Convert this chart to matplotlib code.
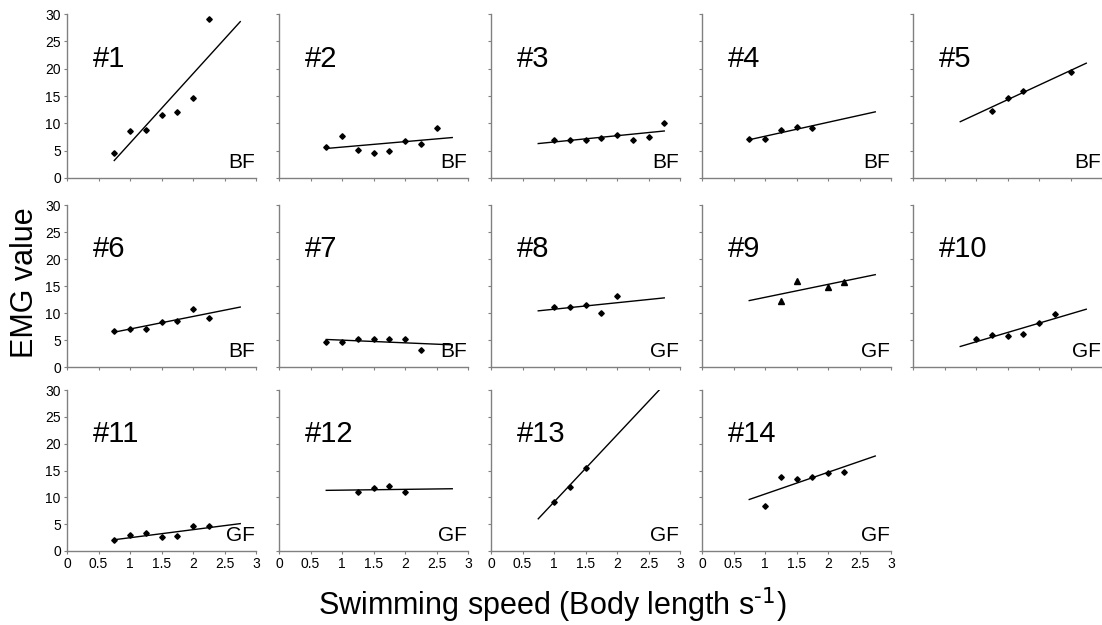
import matplotlib
matplotlib.use("Agg")
import matplotlib.pyplot as plt
from matplotlib.ticker import FuncFormatter

plt.rcParams['font.family'] = ['Liberation Sans', 'DejaVu Sans']
plt.rcParams['mathtext.default'] = 'regular'

# fish number, muscle and measured points (speed in body lengths / s, EMG value)
fish = ['#1', '#2', '#3', '#4', '#5', '#6', '#7',
        '#8', '#9', '#10', '#11', '#12', '#13', '#14']
muscle = ['BF', 'BF', 'BF', 'BF', 'BF', 'BF', 'BF',
          'GF', 'GF', 'GF', 'GF', 'GF', 'GF', 'GF']

speed_1 = [0.75, 1.0, 1.25, 1.5, 1.75, 2.0, 2.25]
emg_1 = [4.5, 8.6, 8.8, 11.5, 12.1, 14.7, 29.0]
speed_2 = [0.75, 1.0, 1.25, 1.5, 1.75, 2.0, 2.25, 2.5]
emg_2 = [5.7, 7.6, 5.1, 4.6, 5.0, 6.7, 6.3, 9.2]
speed_3 = [1.0, 1.25, 1.5, 1.75, 2.0, 2.25, 2.5, 2.75]
emg_3 = [7.0, 6.9, 7.0, 7.4, 7.8, 7.0, 7.5, 10.0]
speed_4 = [0.75, 1.0, 1.25, 1.5, 1.75]
emg_4 = [7.1, 7.1, 8.8, 9.3, 9.1]
speed_5 = [1.25, 1.5, 1.75, 2.5]
emg_5 = [12.3, 14.7, 15.9, 19.4]
speed_6 = [0.75, 1.0, 1.25, 1.5, 1.75, 2.0, 2.25]
emg_6 = [6.6, 7.0, 7.0, 8.3, 8.5, 10.7, 9.1]
speed_7 = [0.75, 1.0, 1.25, 1.5, 1.75, 2.0, 2.25]
emg_7 = [4.7, 4.6, 5.1, 5.1, 5.1, 5.1, 3.1]
speed_8 = [1.0, 1.25, 1.5, 1.75, 2.0]
emg_8 = [11.1, 11.1, 11.4, 10.0, 13.1]
speed_9 = [1.25, 1.5, 2.0, 2.25]
emg_9 = [12.2, 15.9, 14.8, 15.8]
speed_10 = [1.0, 1.25, 1.5, 1.75, 2.0, 2.25]
emg_10 = [5.1, 6.0, 5.8, 6.1, 8.1, 9.8]
speed_11 = [0.75, 1.0, 1.25, 1.5, 1.75, 2.0, 2.25]
emg_11 = [2.0, 2.95, 3.3, 2.7, 2.8, 4.6, 4.6]
speed_12 = [1.25, 1.5, 1.75, 2.0]
emg_12 = [11.0, 11.7, 12.1, 11.0]
speed_13 = [1.0, 1.25, 1.5]
emg_13 = [9.2, 11.9, 15.4]
speed_14 = [1.0, 1.25, 1.5, 1.75, 2.0, 2.25]
emg_14 = [8.3, 13.8, 13.5, 13.8, 14.6, 14.8]

speeds = [speed_1, speed_2, speed_3, speed_4, speed_5, speed_6, speed_7,
          speed_8, speed_9, speed_10, speed_11, speed_12, speed_13, speed_14]
emgs = [emg_1, emg_2, emg_3, emg_4, emg_5, emg_6, emg_7,
        emg_8, emg_9, emg_10, emg_11, emg_12, emg_13, emg_14]

# regression lines: value at start and end of fit range
fit_x = [0.75, 2.75]
fit_start = [3.2, 5.4, 6.3, 7.0, 10.3, 6.45, 5.1, 10.4, 12.3, 3.8, 2.1, 11.3, 6.0, 9.6]
fit_end = [28.6, 7.4, 8.6, 12.1, 21.0, 11.1, 4.1, 12.8, 17.1, 10.7, 5.1, 11.6, 31.0, 17.7]

xticks = [0, 0.5, 1, 1.5, 2, 2.5, 3]
yticks = [0, 5, 10, 15, 20, 25, 30]

fig = plt.figure(figsize=(11.02, 6.25), dpi=100)
W, H = 1102, 625
col_left = [67, 279, 491, 702, 913]
row_top = [14, 205, 390]
row_bot = [178, 367, 551]
ax_w = 189

fmt = FuncFormatter(lambda v, p: '%g' % v)

for i in range(len(fish)):
    r, c = divmod(i, 5)
    ax = fig.add_axes([col_left[c] / W, 1 - row_bot[r] / H,
                       ax_w / W, (row_bot[r] - row_top[r]) / H])
    marker = '^' if fish[i] == '#9' else 'D'
    ms = 4.2 if marker == '^' else 2.8
    ax.plot(speeds[i], emgs[i], linestyle='none', marker=marker, ms=ms,
            color='black')
    ax.plot(fit_x, [fit_start[i], fit_end[i]], color='black', lw=1.0)
    ax.set_xlim(0, 3)
    ax.set_ylim(0, 30)
    ax.set_xticks(xticks)
    ax.set_yticks(yticks)
    ax.xaxis.set_major_formatter(fmt)
    for s in ['top', 'right']:
        ax.spines[s].set_visible(False)
    for s in ['left', 'bottom']:
        ax.spines[s].set_color('#808080')
        ax.spines[s].set_linewidth(1.0)
    ax.tick_params(direction='out', length=2.5, width=0.8, color='#808080',
                   labelsize=10, pad=2)
    if c != 0:
        ax.tick_params(labelleft=False)
    if r != 2:
        ax.tick_params(labelbottom=False)
    ax.text(0.135, 0.677, fish[i], transform=ax.transAxes, fontsize=21,
            ha='left', va='baseline')
    ax.text(0.995, 0.06, muscle[i], transform=ax.transAxes, fontsize=15,
            ha='right', va='baseline')

fig.text(552 / W, 1 - 615 / H, 'Swimming speed (Body length s$^{\\text{-1}}$)',
         fontsize=22, ha='center', va='baseline')
fig.text(25 / W, 1 - 283 / H, 'EMG value', fontsize=22, rotation=90,
         ha='center', va='center')

plt.savefig('out.png', dpi=100)
